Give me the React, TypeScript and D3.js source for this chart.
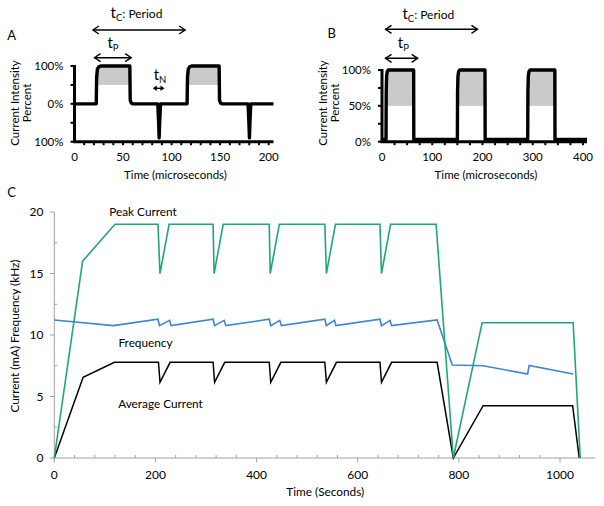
import React from 'react';
import * as d3 from 'd3';

const FONT = 'Lato, "Open Sans", sans-serif';

// ---------- Panel A data ----------
const aXTicks = [0, 50, 100, 150, 200];
const aYTickVals = [100, 0, -100];
const aYTickLabels = ['100%', '0%', '100%'];
const aWaveT = [0, 22.4, 22.8, 23.6, 25, 27, 57, 57.4, 58.5, 60, 85.8, 86.6, 87.2, 87.8, 88.6, 116, 116.4, 117.2, 118.6, 120.6, 149, 149.4, 150.5, 152, 178.8, 179.6, 180.2, 180.8, 181.6, 205];
const aWaveV = [0, 0, 70, 92, 98, 100, 100, 10, 2, 0, 0, -45, -90, -45, 0, 0, 70, 92, 98, 100, 100, 10, 2, 0, 0, -45, -90, -45, 0, 0];
const aFillStart = [24, 117.5];
const aFillEnd = [57, 149];
const aPeriodArrow = [19, 114];
const aTpArrow = [20.6, 58.4];
const aTnArrow = [80.6, 92.7];

// ---------- Panel B data ----------
const bXTicks = [0, 100, 200, 300, 400];
const bYTickVals = [100, 50, 0];
const bYTickLabels = ['100%', '50%', '0%'];
const bWaveT = [0, 8, 8.4, 9.2, 10.6, 12.6, 63, 63.3, 150, 150.4, 151.2, 152.6, 154.6, 205, 205.3, 290, 290.4, 291.2, 292.6, 294.6, 344, 344.3, 408];
const bWaveV = [3, 3, 70, 92, 98, 100, 100, 3, 3, 70, 92, 98, 100, 100, 3, 3, 70, 92, 98, 100, 100, 3, 3];
const bFillStart = [10, 152, 292];
const bFillEnd = [63, 205, 344];
const bPeriodArrow = [7, 190];
const bTpArrow = [7, 71];

// ---------- Panel C data ----------
const cXTicks = [0, 200, 400, 600, 800, 1000];
const cYTicks = [0, 5, 10, 15, 20];
const peakT = [0, 56, 120, 205, 209, 227, 314, 316, 334, 425, 427, 445, 535, 538, 556, 644, 647, 665, 755, 789, 846, 1026, 1040];
const peakV = [0, 16, 19, 19, 15, 19, 19, 15, 19, 19, 15, 19, 19, 15, 19, 19, 15, 19, 19, 0, 11, 11, 0];
const freqT = [0, 117, 205, 208, 228, 231, 314, 317, 336, 339, 425, 428, 446, 449, 535, 538, 554, 557, 644, 647, 664, 667, 757, 787, 848, 936, 939, 1026];
const freqV = [11.22, 10.76, 11.28, 10.76, 11.19, 10.76, 11.28, 10.76, 11.19, 10.76, 11.28, 10.76, 11.19, 10.76, 11.28, 10.76, 11.19, 10.76, 11.28, 10.76, 11.19, 10.76, 11.22, 7.56, 7.5, 6.83, 7.53, 6.83];
const avgT = [0, 57, 119, 206, 209, 229, 314, 317, 337, 425, 428, 448, 535, 538, 558, 644, 647, 667, 757, 789, 848, 1025, 1038];
const avgV = [0, 6.56, 7.78, 7.78, 6.15, 7.78, 7.78, 6.15, 7.78, 7.78, 6.15, 7.78, 7.78, 6.15, 7.78, 7.78, 6.15, 7.78, 7.78, 0, 4.25, 4.25, 0];

const GREEN = '#1fa67a';
const BLUE = '#3f86d2';
const AXIS_GRAY = '#a0a0a0';
const FILL_GRAY = '#cacaca';

function Arrow({ x1, x2, y, filled }: { x1: number; x2: number; y: number; filled?: boolean }) {
  if (filled) {
    const h = 4, w = 2.8;
    return (
      <g>
        <line x1={x1 + 2} x2={x2 - 2} y1={y} y2={y} stroke="#000" strokeWidth={1.4} />
        <path d={`M${x1},${y} L${x1 + h},${y - w} L${x1 + h},${y + w} Z`} fill="#000" />
        <path d={`M${x2},${y} L${x2 - h},${y - w} L${x2 - h},${y + w} Z`} fill="#000" />
      </g>
    );
  }
  const h = 6, w = 4;
  return (
    <g fill="none" stroke="#000" strokeWidth={1.4}>
      <line x1={x1} x2={x2} y1={y} y2={y} />
      <path d={`M${x1 + h},${y - w} L${x1},${y} L${x1 + h},${y + w}`} />
      <path d={`M${x2 - h},${y - w} L${x2},${y} L${x2 - h},${y + w}`} />
    </g>
  );
}

function SubLabel({ x, y, main, sub, rest }: { x: number; y: number; main: string; sub: string; rest?: string }) {
  return (
    <text x={x} y={y} textAnchor="middle" fontFamily={FONT} fill="#000">
      <tspan fontSize={15}>{main}</tspan>
      <tspan fontSize={9.5} dy={3}>{sub}</tspan>
      {rest ? <tspan fontSize={12} dy={-3}>{rest}</tspan> : null}
    </text>
  );
}

function PanelA() {
  const x = d3.scaleLinear().domain([0, 205]).range([74.5, 273.5]);
  const y = d3.scaleLinear().domain([-100, 100]).range([141.7, 66]);
  const pts = aWaveT.map((t, i) => [t, aWaveV[i]] as [number, number]);
  const line = d3.line<[number, number]>().x(d => x(d[0])).y(d => y(d[1]));
  const minor = d3.range(10, 206, 10);
  const yMinor = [100, 50, 0, -50, -100];
  return (
    <g>
      {aFillStart.map((s, i) => (
        <rect key={i} x={x(s)} y={y(100)} width={x(aFillEnd[i]) - x(s)} height={y(50) - y(100)} fill={FILL_GRAY} />
      ))}
      <path d={line(pts) || ''} fill="none" stroke="#000" strokeWidth={3.4} strokeLinejoin="round" />
      {/* axes */}
      <line x1={x(0)} x2={x(0)} y1={y(100) - 1} y2={y(-100)} stroke="#000" strokeWidth={3} />
      <line x1={x(0) - 1.5} x2={x(205)} y1={y(-100)} y2={y(-100)} stroke="#000" strokeWidth={3} />
      {minor.map(t => (
        <line key={t} x1={x(t)} x2={x(t)} y1={y(-100)} y2={y(-100) + 3.5} stroke="#000" strokeWidth={2} />
      ))}
      {yMinor.map(v => (
        <line key={v} x1={x(0) - 4} x2={x(0)} y1={y(v)} y2={y(v)} stroke="#000" strokeWidth={2} />
      ))}
      {aYTickVals.map((v, i) => (
        <text key={i} x={63.5} y={y(v)} dy="0.35em" textAnchor="end" fontFamily={FONT} fontSize={11.5}>{aYTickLabels[i]}</text>
      ))}
      {aXTicks.map(t => (
        <text key={t} x={x(t)} y={157} dy="0.35em" textAnchor="middle" fontFamily={FONT} fontSize={11.5}>{t}</text>
      ))}
      <text x={175.5} y={175} dy="0.35em" textAnchor="middle" fontFamily={FONT} fontSize={11.5}>Time (microseconds)</text>
      <g transform="translate(15,103) rotate(-90)">
        <text x={0} y={0} dy="0.35em" textAnchor="middle" fontFamily={FONT} fontSize={11.5}>Current Intensity</text>
      </g>
      <g transform="translate(27,103) rotate(-90)">
        <text x={0} y={0} dy="0.35em" textAnchor="middle" fontFamily={FONT} fontSize={11.5}>Percent</text>
      </g>
      <text x={11.7} y={35} dy="0.35em" textAnchor="middle" fontFamily={FONT} fontSize={13}>A</text>
      <SubLabel x={136.5} y={18} main="t" sub="C" rest=": Period" />
      <Arrow x1={x(aPeriodArrow[0])} x2={x(aPeriodArrow[1])} y={30} />
      <SubLabel x={113} y={48} main="t" sub="P" />
      <Arrow x1={x(aTpArrow[0])} x2={x(aTpArrow[1])} y={57.7} />
      <SubLabel x={160} y={80} main="t" sub="N" />
      <Arrow x1={x(aTnArrow[0])} x2={x(aTnArrow[1])} y={88.3} filled />
    </g>
  );
}

function PanelB() {
  const x = d3.scaleLinear().domain([0, 408]).range([382, 587]);
  const y = d3.scaleLinear().domain([0, 100]).range([141.7, 70]);
  const pts = bWaveT.map((t, i) => [t, bWaveV[i]] as [number, number]);
  const line = d3.line<[number, number]>().x(d => x(d[0])).y(d => y(d[1]));
  const minor = d3.range(25, 409, 25);
  const yMinor = [100, 75, 50, 25, 0];
  return (
    <g>
      {bFillStart.map((s, i) => (
        <rect key={i} x={x(s)} y={y(100)} width={x(bFillEnd[i]) - x(s)} height={y(50) - y(100)} fill={FILL_GRAY} />
      ))}
      <path d={line(pts) || ''} fill="none" stroke="#000" strokeWidth={3.4} strokeLinejoin="round" />
      <line x1={x(0)} x2={x(0)} y1={y(100) - 1} y2={y(0)} stroke="#000" strokeWidth={3} />
      <line x1={x(0) - 1.5} x2={x(408)} y1={y(0)} y2={y(0)} stroke="#000" strokeWidth={3} />
      {minor.map(t => (
        <line key={t} x1={x(t)} x2={x(t)} y1={y(0)} y2={y(0) + 3.5} stroke="#000" strokeWidth={2} />
      ))}
      {yMinor.map(v => (
        <line key={v} x1={x(0) - 4} x2={x(0)} y1={y(v)} y2={y(v)} stroke="#000" strokeWidth={2} />
      ))}
      {bYTickVals.map((v, i) => (
        <text key={i} x={371} y={y(v)} dy="0.35em" textAnchor="end" fontFamily={FONT} fontSize={11.5}>{bYTickLabels[i]}</text>
      ))}
      {bXTicks.map(t => (
        <text key={t} x={x(t)} y={157} dy="0.35em" textAnchor="middle" fontFamily={FONT} fontSize={11.5}>{t}</text>
      ))}
      <text x={486} y={175} dy="0.35em" textAnchor="middle" fontFamily={FONT} fontSize={11.5}>Time (microseconds)</text>
      <g transform="translate(322.7,103) rotate(-90)">
        <text x={0} y={0} dy="0.35em" textAnchor="middle" fontFamily={FONT} fontSize={11.5}>Current Intensity</text>
      </g>
      <g transform="translate(334.5,103) rotate(-90)">
        <text x={0} y={0} dy="0.35em" textAnchor="middle" fontFamily={FONT} fontSize={11.5}>Percent</text>
      </g>
      <text x={331.7} y={33.3} dy="0.35em" textAnchor="middle" fontFamily={FONT} fontSize={13}>B</text>
      <SubLabel x={428.3} y={19} main="t" sub="C" rest=": Period" />
      <Arrow x1={x(bPeriodArrow[0])} x2={x(bPeriodArrow[1])} y={29.3} />
      <SubLabel x={403.3} y={48} main="t" sub="P" />
      <Arrow x1={x(bTpArrow[0])} x2={x(bTpArrow[1])} y={58.3} />
    </g>
  );
}

function PanelC() {
  const x = d3.scaleLinear().domain([0, 1070]).range([54.3, 595.4]);
  const y = d3.scaleLinear().domain([0, 20]).range([458, 212]);
  const mk = (T: number[], V: number[]) => {
    const pts = T.map((t, i) => [t, V[i]] as [number, number]);
    return d3.line<[number, number]>().x(d => x(d[0])).y(d => y(d[1]))(pts) || '';
  };
  const xMinor = d3.range(40, 1070, 40).filter(v => v % 200 !== 0);
  const yMinor = [2.5, 7.5, 12.5, 17.5];
  return (
    <g>
      <line x1={x(0)} x2={x(0)} y1={y(20)} y2={y(0)} stroke={AXIS_GRAY} strokeWidth={1} />
      <line x1={x(0)} x2={x(1070)} y1={y(0)} y2={y(0)} stroke={AXIS_GRAY} strokeWidth={1} />
      {cYTicks.map(v => (
        <line key={v} x1={x(0) - 4.5} x2={x(0)} y1={y(v)} y2={y(v)} stroke={AXIS_GRAY} strokeWidth={1} />
      ))}
      {yMinor.map(v => (
        <line key={v} x1={x(0)} x2={x(0) + 3} y1={y(v)} y2={y(v)} stroke={AXIS_GRAY} strokeWidth={1} />
      ))}
      {cXTicks.map(t => (
        <line key={t} x1={x(t)} x2={x(t)} y1={y(0)} y2={y(0) + 4.5} stroke={AXIS_GRAY} strokeWidth={1} />
      ))}
      {xMinor.map(t => (
        <line key={t} x1={x(t)} x2={x(t)} y1={y(0) - 3} y2={y(0)} stroke={AXIS_GRAY} strokeWidth={1} />
      ))}
      <path d={mk(freqT, freqV)} fill="none" stroke={BLUE} strokeWidth={1.6} strokeLinejoin="miter" />
      <path d={mk(avgT, avgV)} fill="none" stroke="#000" strokeWidth={1.5} strokeLinejoin="miter" />
      <path d={mk(peakT, peakV)} fill="none" stroke={GREEN} strokeWidth={1.6} strokeLinejoin="miter" />
      {cYTicks.map(v => (
        <text key={v} x={43.5} y={y(v)} dy="0.35em" textAnchor="end" fontFamily={FONT} fontSize={12}>{v}</text>
      ))}
      {cXTicks.map(t => (
        <text key={t} x={x(t)} y={474.3} dy="0.35em" textAnchor="middle" fontFamily={FONT} fontSize={12}>{t}</text>
      ))}
      <text x={325.3} y={491.7} dy="0.35em" textAnchor="middle" fontFamily={FONT} fontSize={11.8}>Time (Seconds)</text>
      <g transform="translate(15,336) rotate(-90)">
        <text x={0} y={0} dy="0.35em" textAnchor="middle" fontFamily={FONT} fontSize={11.8}>Current (mA) Frequency (kHz)</text>
      </g>
      <text x={143} y={212} dy="0.35em" textAnchor="middle" fontFamily={FONT} fontSize={11.8}>Peak Current</text>
      <text x={145.5} y={343.3} dy="0.35em" textAnchor="middle" fontFamily={FONT} fontSize={11.8}>Frequency</text>
      <text x={160.5} y={404} dy="0.35em" textAnchor="middle" fontFamily={FONT} fontSize={11.8}>Average Current</text>
      <text x={11.7} y={192.3} dy="0.35em" textAnchor="middle" fontFamily={FONT} fontSize={13}>C</text>
    </g>
  );
}

export default function App() {
  return (
    <svg
      width={604}
      height={506}
      viewBox="0 0 604 506"
      style={{ position: 'absolute', left: 0, top: 0, background: '#fff' }}
    >
      <rect x={0} y={0} width={604} height={506} fill="#fff" />
      <PanelA />
      <PanelB />
      <PanelC />
    </svg>
  );
}
